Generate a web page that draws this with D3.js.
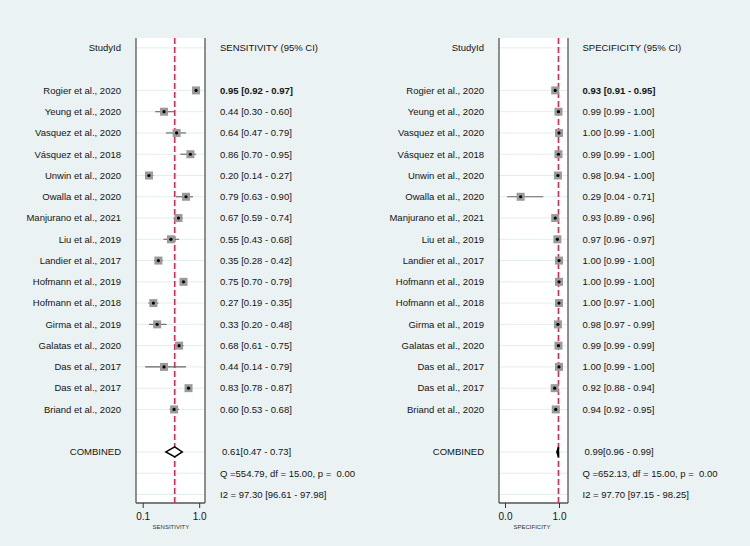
<!DOCTYPE html>
<html><head><meta charset="utf-8">
<script src="https://cdn.jsdelivr.net/npm/d3@7"></script>
<style>
html,body{margin:0;padding:0;background:#eaf2f3;}
svg{display:block;font-family:"Liberation Sans",Arial,sans-serif;}
</style></head>
<body>
<script>
const studies = ["Rogier et al., 2020","Yeung et al., 2020","Vasquez et al., 2020","Vásquez et al., 2018","Unwin et al., 2020","Owalla et al., 2020","Manjurano et al., 2021","Liu et al., 2019","Landier et al., 2017","Hofmann et al., 2019","Hofmann et al., 2018","Girma et al., 2019","Galatas et al., 2020","Das et al., 2017","Das et al., 2017","Briand et al., 2020"];
const sensEst = [0.95,0.44,0.64,0.86,0.20,0.79,0.67,0.55,0.35,0.75,0.27,0.33,0.68,0.44,0.83,0.60];
const sensLo  = [0.92,0.30,0.47,0.70,0.14,0.63,0.59,0.43,0.28,0.70,0.19,0.20,0.61,0.14,0.78,0.53];
const sensHi  = [0.97,0.60,0.79,0.95,0.27,0.90,0.74,0.68,0.42,0.79,0.35,0.48,0.75,0.79,0.87,0.68];
const specEst = [0.93,0.99,1.00,0.99,0.98,0.29,0.93,0.97,1.00,1.00,1.00,0.98,0.99,1.00,0.92,0.94];
const specLo  = [0.91,0.99,0.99,0.99,0.94,0.04,0.89,0.96,0.99,0.99,0.97,0.97,0.99,0.99,0.88,0.92];
const specHi  = [0.95,1.00,1.00,1.00,1.00,0.71,0.96,0.97,1.00,1.00,1.00,0.99,0.99,1.00,0.94,0.95];
const sensCombined = [0.61,0.47,0.73];
const specCombined = [0.99,0.96,0.99];
const sensStats = ["Q =554.79, df = 15.00, p =  0.00","I2 = 97.30 [96.61 - 97.98]"];
const specStats = ["Q =652.13, df = 15.00, p =  0.00","I2 = 97.70 [97.15 - 98.25]"];
const sensTicks = [0.1,1.0];
const specTicks = [0.0,1.0];

const W=750,H=546;
const svg=d3.select("body").append("svg").attr("width",W).attr("height",H);
svg.append("rect").attr("width",W).attr("height",H).attr("fill","#eaf2f3");

const rowY = d3.scaleLinear().domain([0,21]).range([47.9,494.5]);
const plotTop=38, plotBot=503;
const fmt = d3.format(".2f");
const txtColor="#141414";

function panel(cfg){
  const g=svg.append("g");
  const x=d3.scaleLinear().domain(cfg.domain).range(cfg.range);
  g.append("rect").attr("x",cfg.px0).attr("y",plotTop).attr("width",cfg.px1-cfg.px0).attr("height",plotBot-plotTop).attr("fill","#fff");
  const gridRows=[0,2,3,4,5,6,7,8,9,10,11,12,13,14,15,16,17,19,20,21];
  g.selectAll("line.grid").data(gridRows).join("line").attr("class","grid")
    .attr("x1",cfg.px0).attr("x2",cfg.px1).attr("y1",d=>rowY(d)).attr("y2",d=>rowY(d))
    .attr("stroke","#e2edf2").attr("stroke-width",1);
  g.append("line").attr("x1",cfg.px0).attr("x2",cfg.px0).attr("y1",plotTop).attr("y2",plotBot).attr("stroke","#555").attr("stroke-width",1.3);
  g.append("line").attr("x1",cfg.px1).attr("x2",cfg.px1).attr("y1",plotTop).attr("y2",plotBot).attr("stroke","#555").attr("stroke-width",1.3);
  const ax=g.append("g").attr("transform",`translate(0,${plotBot})`)
    .call(d3.axisBottom(x).tickValues(cfg.ticks).tickFormat(d3.format(".1f")).tickSize(5).tickPadding(5));
  ax.select(".domain").attr("d",`M${cfg.px0},0H${cfg.px1}`).attr("stroke","#555").attr("stroke-width",1.3);
  ax.selectAll(".tick line").attr("stroke","#333");
  ax.selectAll(".tick text").attr("font-size",10).attr("fill",txtColor).attr("font-family","Liberation Sans, Arial, sans-serif");
  g.append("text").attr("x",(x(cfg.ticks[0])+x(cfg.ticks[1]))/2).attr("y",529).attr("text-anchor","middle")
    .attr("font-size",6).attr("fill","#333").text(cfg.axisTitle);

  g.append("line").attr("x1",x(cfg.comb[0])).attr("x2",x(cfg.comb[0])).attr("y1",plotTop).attr("y2",plotBot)
    .attr("stroke","#e0245a").attr("stroke-width",1.6).attr("stroke-dasharray","6,3");

  const idx=d3.range(studies.length);
  g.selectAll("line.ci").data(idx).join("line").attr("class","ci")
    .attr("x1",i=>x(cfg.lo[i])).attr("x2",i=>x(cfg.hi[i]))
    .attr("y1",i=>rowY(i+2)).attr("y2",i=>rowY(i+2))
    .attr("stroke","#666").attr("stroke-width",1.1);
  const s=8;
  g.selectAll("rect.box").data(idx).join("rect").attr("class","box")
    .attr("x",i=>x(cfg.est[i])-s/2).attr("y",i=>rowY(i+2)-s/2).attr("width",s).attr("height",s)
    .attr("fill","#9a9a9a");
  g.selectAll("circle.pt").data(idx).join("circle").attr("class","pt")
    .attr("cx",i=>x(cfg.est[i])).attr("cy",i=>rowY(i+2)).attr("r",1.6).attr("fill","#000");

  const cy=rowY(19), hh=5;
  const c=cfg.comb;
  g.append("path").attr("d",`M${x(c[1])},${cy}L${x(c[0])},${cy-hh}L${x(c[2])},${cy}L${x(c[0])},${cy+hh}Z`)
    .attr("fill","#fff").attr("stroke","#000").attr("stroke-width",1.5).attr("stroke-linejoin","miter");

  g.append("text").attr("x",cfg.labX).attr("y",rowY(0)).attr("dy","0.35em").attr("text-anchor","end")
    .attr("font-size",9.5).attr("fill",txtColor).text("StudyId");
  g.append("text").attr("x",cfg.valX).attr("y",rowY(0)).attr("dy","0.35em")
    .attr("font-size",9.5).attr("fill",txtColor).text(cfg.header);
  g.selectAll("text.study").data(idx).join("text").attr("class","study")
    .attr("x",cfg.labX).attr("y",i=>rowY(i+2)).attr("dy","0.35em").attr("text-anchor","end")
    .attr("font-size",9.5).attr("fill",txtColor).text(i=>studies[i]);
  g.selectAll("text.val").data(idx).join("text").attr("class","val")
    .attr("x",cfg.valX).attr("y",i=>rowY(i+2)).attr("dy","0.35em")
    .attr("font-size",9.5).attr("fill",txtColor).attr("font-weight",i=>i===0?"bold":"normal")
    .text(i=>`${fmt(cfg.est[i])} [${fmt(cfg.lo[i])} - ${fmt(cfg.hi[i])}]`);
  g.append("text").attr("x",cfg.labX).attr("y",rowY(19)).attr("dy","0.35em").attr("text-anchor","end")
    .attr("font-size",9.5).attr("fill",txtColor).text("COMBINED");
  g.append("text").attr("x",cfg.valX+2).attr("y",rowY(19)).attr("dy","0.35em")
    .attr("font-size",9.5).attr("fill",txtColor).text(`${fmt(c[0])}[${fmt(c[1])} - ${fmt(c[2])}]`);
  g.selectAll("text.stat").data(cfg.stats).join("text").attr("class","stat")
    .attr("x",cfg.valX).attr("y",(d,i)=>rowY(20+i)).attr("dy","0.35em")
    .attr("font-size",9.5).attr("fill",txtColor).style("white-space","pre").attr("xml:space","preserve").text(d=>d);
}

panel({domain:[0.1,1.0],range:[142.7,199.2],px0:136,px1:205,ticks:sensTicks,axisTitle:"SENSITIVITY",
  est:sensEst,lo:sensLo,hi:sensHi,comb:sensCombined,stats:sensStats,labX:121,valX:220,header:"SENSITIVITY (95% CI)"});
panel({domain:[0.0,1.0],range:[505,559],px0:499,px1:568,ticks:specTicks,axisTitle:"SPECIFICITY",
  est:specEst,lo:specLo,hi:specHi,comb:specCombined,stats:specStats,labX:484,valX:582.5,header:"SPECIFICITY (95% CI)"});
</script>
</body></html>
